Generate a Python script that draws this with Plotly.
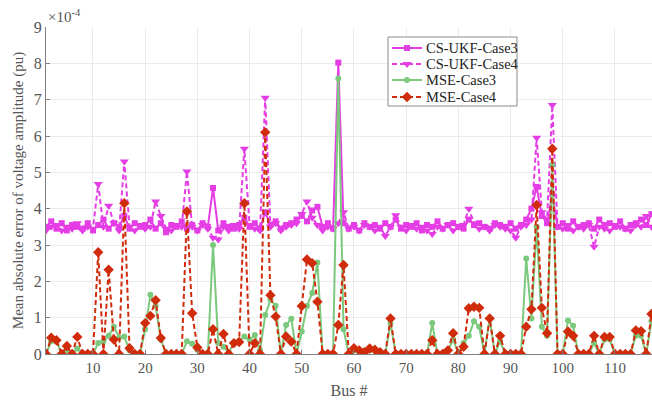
import plotly.graph_objects as go

bus = list(range(1, 119))

cs_ukf_case3 = [3.5, 3.65, 3.45, 3.6, 3.4, 3.55, 3.5, 3.45, 3.6, 3.4,
                3.55, 3.7, 3.45, 3.6, 3.5, 3.8, 3.45, 3.6, 3.5, 3.55,
                3.7, 3.45, 3.6, 3.35, 3.55, 3.5, 3.65, 3.45, 3.55, 3.4,
                3.6, 3.5, 4.57, 3.4, 3.6, 3.5, 3.45, 3.55, 3.75, 3.5,
                3.6, 3.45, 3.9, 3.55, 3.65, 3.45, 3.55, 3.6, 3.7, 3.8,
                3.65, 3.95, 4.05, 3.5, 3.6, 3.45, 8.02, 3.6, 3.45, 3.55,
                3.4, 3.6, 3.5, 3.55, 3.45, 3.6, 3.5, 3.7, 3.45, 3.55,
                3.5, 3.6, 3.4, 3.55, 3.5, 3.65, 3.45, 3.55, 3.6, 3.5,
                3.45, 3.7, 3.55, 3.6, 3.5, 3.45, 3.6, 3.55, 3.5, 3.6,
                3.45, 3.55, 3.7, 4.0, 4.6, 3.8, 3.6, 4.4, 3.5, 3.6,
                3.45, 3.65, 3.5, 3.55, 3.6, 3.45, 3.7, 3.55, 3.6, 3.5,
                3.65, 3.45, 3.55, 3.6, 3.7, 3.55, 3.85, 3.6]

cs_ukf_case4 = [3.4, 3.5, 3.55, 3.4, 3.5, 3.45, 3.6, 3.4, 3.5, 3.45,
                4.68, 3.5, 4.08, 3.6, 3.4, 5.3, 3.5, 3.4, 3.55, 3.45,
                3.5, 4.2, 3.8, 3.45, 3.4, 3.55, 3.5, 5.02, 3.5, 3.4,
                3.55, 3.45, 3.2, 3.15, 3.5, 3.4, 3.55, 3.45, 5.65, 3.55,
                3.45, 3.4, 7.05, 3.5, 3.6, 3.4, 3.5, 3.55, 3.6, 3.85,
                4.2, 3.75, 3.55, 3.4, 3.5, 3.45, 3.6, 3.9, 3.45, 3.5,
                3.4, 3.55, 3.5, 3.4, 3.5, 3.25, 3.5, 3.82, 3.5, 3.4,
                3.55, 3.45, 3.5, 3.4, 3.3, 3.5, 3.45, 3.55, 3.4, 3.5,
                3.55, 4.0, 3.6, 3.45, 3.5, 3.4, 3.55, 3.5, 3.45, 3.4,
                3.2, 3.5, 3.55, 3.7, 5.95, 3.9, 3.7, 6.85, 3.5, 3.45,
                3.55, 3.4, 3.5, 3.45, 3.55, 2.95, 3.5, 3.45, 3.4, 3.55,
                3.5, 3.45, 3.4, 3.55, 3.5, 3.8, 3.5, 3.45]

mse_case3 = [0, 0.35, 0.35, 0, 0.1, 0, 0.15, 0, 0, 0,
             0.3, 0.35, 0.5, 0.75, 0.45, 0.48, 0.1, 0, 0, 0.68,
             1.63, 1.32, 0.4, 0, 0, 0, 0, 0.35, 0.28, 0.12,
             0, 0, 3.0, 0.3, 0.2, 0.05, 0.3, 0.35, 0.48, 0.4,
             0.52, 0.1, 1.07, 1.49, 1.33, 0, 0.8, 0.97, 0, 0.62,
             1.32, 1.68, 2.52, 0, 0, 0, 7.58, 0.68, 0, 0.1,
             0.05, 0, 0.1, 0.1, 0, 0, 0.85, 0, 0, 0,
             0, 0, 0, 0, 0.85, 0, 0, 0.1, 0.4, 0,
             0.3, 0.5, 0.9, 0.75, 0, 1.0, 0, 0.35, 0, 0,
             0, 0, 2.63, 0.98, 3.5, 0.75, 0.5, 5.2, 0, 0,
             0.92, 0.78, 0, 0, 0, 0.3, 0, 0.4, 0.4, 0,
             0, 0, 0, 0.5, 0.5, 0, 0.9, 0.5]

mse_case4 = [0, 0.45, 0.38, 0, 0.22, 0, 0.47, 0, 0, 0,
             2.8, 0, 2.32, 0.4, 0, 4.15, 0.16, 0, 0, 0.85,
             1.05, 1.48, 0.44, 0, 0, 0, 0, 3.92, 1.12, 0.18,
             0, 0, 0.68, 0, 0.55, 0, 0.3, 0.33, 4.15, 0,
             0.3, 0, 6.1, 1.62, 1.03, 0, 0.48, 0.34, 0, 1.32,
             2.6, 2.5, 1.44, 0, 0, 0, 0.8, 2.45, 0, 0.16,
             0.1, 0.05, 0.15, 0.12, 0.05, 0, 0.98, 0, 0, 0,
             0, 0, 0, 0, 0.38, 0, 0, 0.1, 0.57, 0,
             0.2, 1.26, 1.3, 1.27, 0, 0.98, 0, 0.5, 0, 0,
             0, 0, 0.75, 1.23, 4.1, 1.27, 0.57, 5.65, 0, 0,
             0.62, 0.5, 0, 0, 0, 0.5, 0, 0.47, 0.47, 0,
             0, 0, 0, 0.65, 0.63, 0, 1.1, 0.6]

series_names = ["CS-UKF-Case3", "CS-UKF-Case4", "MSE-Case3", "MSE-Case4"]
x_ticks = [10, 20, 30, 40, 50, 60, 70, 80, 90, 100, 110]
y_ticks = [0, 1, 2, 3, 4, 5, 6, 7, 8, 9]

MAG = "#e53de5"
GREEN = "#7cc97e"
RED = "#d02b0b"
FONT = "Liberation Serif"
DASH = "5px,3px"

styles = [
    dict(line=dict(color=MAG, width=2), marker=dict(symbol="square", size=6, color=MAG)),
    dict(line=dict(color=MAG, width=2, dash=DASH), marker=dict(symbol="triangle-down", size=8, color=MAG)),
    dict(line=dict(color=GREEN, width=2), marker=dict(symbol="circle", size=6, color=GREEN)),
    dict(line=dict(color=RED, width=2, dash=DASH), marker=dict(symbol="diamond", size=8, color=RED)),
]
data = [cs_ukf_case3, cs_ukf_case4, mse_case3, mse_case4]

fig = go.Figure()
for name, vals, st in zip(series_names, data, styles):
    fig.add_trace(go.Scatter(x=bus, y=vals, name=name, mode="lines+markers",
                             line=st["line"], marker=st["marker"]))

# Compact legend drawn on an overlay axis measured in pixels
L_X0, L_X1, L_Y0, L_Y1 = 388, 517, 37, 106
row_y = [48, 64, 80, 97]
fig.add_trace(go.Scatter(x=[L_X0, L_X1, L_X1, L_X0, L_X0], y=[L_Y0, L_Y0, L_Y1, L_Y1, L_Y0],
                         xaxis="x2", yaxis="y2", mode="lines", fill="toself",
                         fillcolor="white", line=dict(color="#8a8a8a", width=1),
                         hoverinfo="skip", showlegend=False))
for name, st, ry in zip(series_names, styles, row_y):
    fig.add_trace(go.Scatter(x=[392, 422], y=[ry, ry], xaxis="x2", yaxis="y2", mode="lines",
                             line=st["line"], hoverinfo="skip", showlegend=False))
    fig.add_trace(go.Scatter(x=[407], y=[ry], xaxis="x2", yaxis="y2", mode="markers",
                             marker=st["marker"], hoverinfo="skip", showlegend=False))
    fig.add_annotation(xref="x2", yref="y2", x=424, y=ry, xanchor="left", yanchor="middle",
                       text=name, showarrow=False,
                       font=dict(family=FONT, size=14.5, color="#222222"))

fig.update_layout(
    width=652, height=403,
    margin=dict(l=46, r=0, t=27, b=49),
    paper_bgcolor="white", plot_bgcolor="white",
    font=dict(family=FONT, color="#333333", size=14),
    showlegend=False,
    xaxis=dict(range=[1, 117.1], tickvals=x_ticks, showgrid=True, gridcolor="#ebebeb",
               zeroline=False, showline=True, linecolor="#808080", linewidth=1,
               ticks="inside", ticklen=4, tickcolor="#808080",
               tickfont=dict(family=FONT, size=15, color="#555555"),
               title=dict(text="Bus #", font=dict(family=FONT, size=16, color="#555555"), standoff=9)),
    yaxis=dict(range=[0, 9], tickvals=y_ticks, showgrid=True, gridcolor="#ebebeb",
               zeroline=False, showline=True, linecolor="#808080", linewidth=1,
               ticks="inside", ticklen=4, tickcolor="#808080",
               tickfont=dict(family=FONT, size=16, color="#555555"),
               title=dict(text="Mean absolute error of voltage amplitude (pu)",
                          font=dict(family=FONT, size=15, color="#555555"), standoff=6)),
    xaxis2=dict(overlaying="x", range=[46, 652], visible=False, fixedrange=True),
    yaxis2=dict(overlaying="y", range=[354, 27], visible=False, fixedrange=True),
)
fig.add_annotation(xref="paper", yref="paper", x=0.0, y=1.0, xanchor="left", yanchor="bottom",
                   text="×10<sup>-4</sup>", showarrow=False,
                   font=dict(family=FONT, size=15, color="#555555"))

fig.write_html("out.html")
